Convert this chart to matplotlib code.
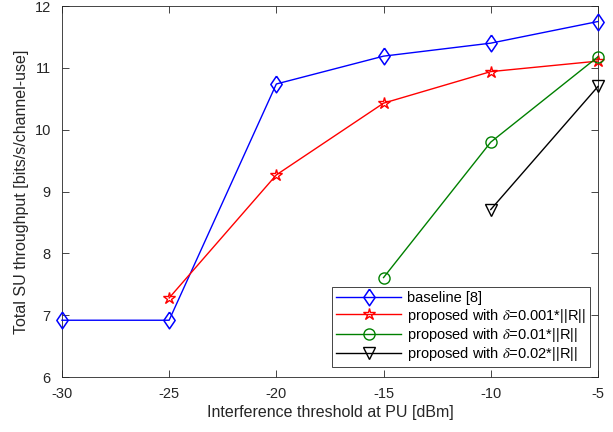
import matplotlib
matplotlib.use('Agg')
import matplotlib.pyplot as plt

plt.rcParams['font.family'] = ['Liberation Sans', 'DejaVu Sans']
plt.rcParams['mathtext.fontset'] = 'stix'
plt.rcParams['axes.unicode_minus'] = False

x_base = [-30, -25, -20, -15, -10, -5]
y_base = [6.92, 6.92, 10.74, 11.19, 11.40, 11.75]
x_d001 = [-25, -20, -15, -10, -5]
y_d001 = [7.28, 9.27, 10.43, 10.94, 11.11]
x_d01 = [-15, -10, -5]
y_d01 = [7.61, 9.80, 11.18]
x_d02 = [-10, -5]
y_d02 = [8.71, 10.70]

diamond = [(0, 1), (0.68, 0), (0, -1), (-0.68, 0), (0, 1)]

fig = plt.figure(figsize=(6.13, 4.32), dpi=100)
ax = fig.add_axes([0.101, 0.127, 0.8745, 0.859])

kw = dict(mfc='none', lw=1, clip_on=False, zorder=3)
ax.plot(x_base, y_base, color='blue', marker=diamond, markersize=12, mew=1.1,
        label='baseline [8]', **kw)
ax.plot(x_d001, y_d001, color='red', marker='*', markersize=9, mew=1,
        label=r'proposed with $\delta$=0.001*||R||', **kw)
ax.plot(x_d01, y_d01, color='green', marker='o', markersize=8, mew=1,
        label=r'proposed with $\delta$=0.01*||R||', **kw)
ax.plot(x_d02, y_d02, color='black', marker='v', markersize=9, mew=1,
        label=r'proposed with $\delta$=0.02*||R||', **kw)

ax.set_xlim(-30, -5)
ax.set_ylim(6, 12)
ax.set_xticks([-30, -25, -20, -15, -10, -5])
ax.set_yticks([6, 7, 8, 9, 10, 11, 12])
ax.tick_params(direction='in', top=True, right=True, labelsize=10.5, colors='#262626',
               length=5, width=0.6)
ax.tick_params(axis='x', pad=7)
ax.tick_params(axis='y', pad=8)
for s in ax.spines.values():
    s.set_color('#262626')
    s.set_linewidth(0.6)
ax.set_xlabel('Interference threshold at PU [dBm]', fontsize=11.5, color='#262626', labelpad=3)
ax.set_ylabel('Total SU throughput [bits/s/channel-use]', fontsize=11.5, color='#262626', labelpad=4)

leg = ax.legend(loc='lower right', fontsize=10.5, fancybox=False, framealpha=1,
                edgecolor='#262626', bbox_to_anchor=(0.985, 0.027), borderaxespad=0,
                handlelength=4.5, handletextpad=0.4,
                labelspacing=0.1, borderpad=0.25)
leg.get_frame().set_linewidth(0.6)

fig.savefig('out.png', dpi=100)
